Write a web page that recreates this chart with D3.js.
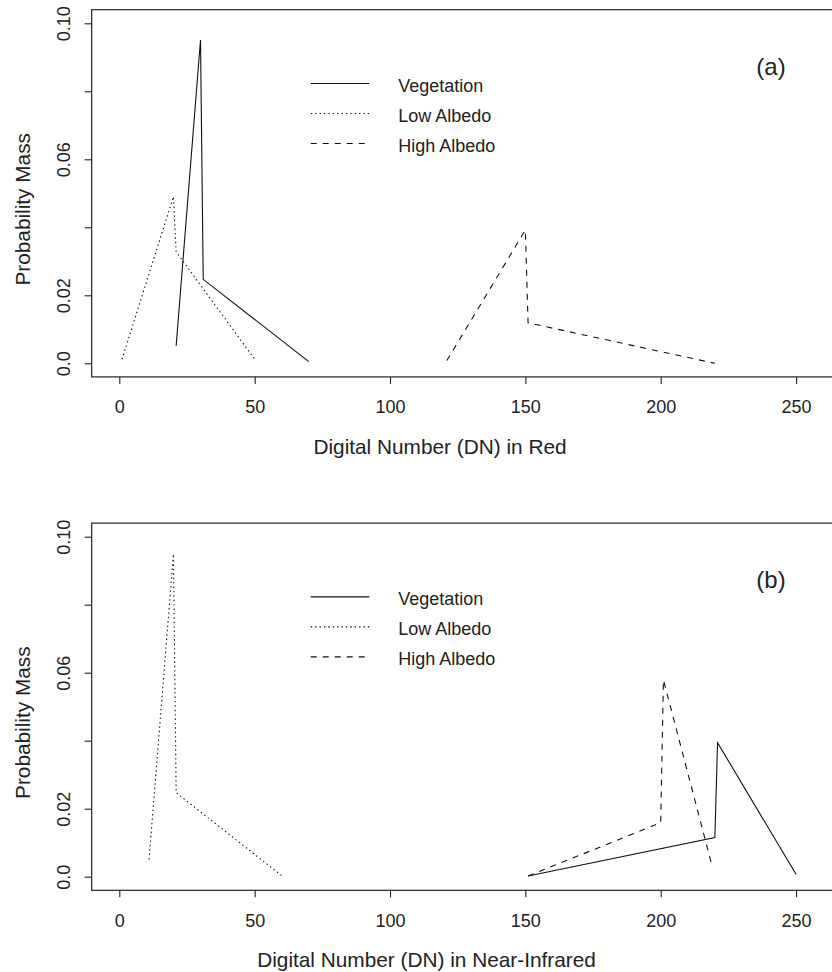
<!DOCTYPE html>
<html>
<head>
<meta charset="utf-8">
<script src="https://cdn.jsdelivr.net/npm/d3@7"></script>
<style>
  html, body { margin: 0; padding: 0; background: #fff; }
  svg { display: block; }
  text { font-family: "Liberation Sans", Arial, Helvetica, sans-serif; fill: #222; }
</style>
</head>
<body>
<script>
// ---------- data ----------
const seriesNames = ["Vegetation", "Low Albedo", "High Albedo"];
const xTickValues = [0, 50, 100, 150, 200, 250];
const xTickLabels = ["0", "50", "100", "150", "200", "250"];
const yTickValues = [0, 0.02, 0.04, 0.06, 0.08, 0.10];
const yTickLabels = ["0.0", "0.02", "", "0.06", "", "0.10"];

// Panel (a): Red
const vegRedDN = [21, 30, 31, 70];
const vegRedMass = [0.0051, 0.0951, 0.0247, 0.0005];
const lowRedDN = [1, 20, 21, 50];
const lowRedMass = [0.0012, 0.0490, 0.0328, 0.0012];
const highRedDN = [121, 150, 151, 220];
const highRedMass = [0.0008, 0.0392, 0.0119, 0.0000];

// Panel (b): Near-Infrared
const vegNirDN = [151, 220, 221, 250];
const vegNirMass = [0.0002, 0.0115, 0.0394, 0.0007];
const lowNirDN = [11, 20, 21, 60];
const lowNirMass = [0.0051, 0.0949, 0.0247, 0.0003];
const highNirDN = [151, 200, 201, 219];
const highNirMass = [0.0002, 0.0159, 0.0579, 0.0031];

const panels = [
  { tag: "(a)", xlab: "Digital Number (DN) in Red", xlabCx: 440, offset: 0,
    series: [[vegRedDN, vegRedMass], [lowRedDN, lowRedMass], [highRedDN, highRedMass]] },
  { tag: "(b)", xlab: "Digital Number (DN) in Near-Infrared", xlabCx: 426.5, offset: 513.4,
    series: [[vegNirDN, vegNirMass], [lowNirDN, lowNirMass], [highNirDN, highNirMass]] }
];

// ---------- styles ----------
const dashes = [null, "1.4,3", "6,6"];
const W = 832, H = 972;

const svg = d3.select("body").append("svg").attr("width", W).attr("height", H);

const x = d3.scaleLinear().domain([0, 255]).range([119.3, 809.6]);
const y = d3.scaleLinear().domain([0, 0.1]).range([363.3, 23.3]);
const xPad = 255 * 0.04, yPad = 0.1 * 0.04;
const boxL = x(-xPad), boxR = x(255 + xPad), boxT = y(0.1 + yPad), boxB = y(-yPad);

panels.forEach(p => {
  const g = svg.append("g").attr("transform", `translate(0,${p.offset})`);

  // lines
  const line = d3.line().x(d => x(d[0])).y(d => y(d[1]));
  p.series.forEach((s, i) => {
    const pts = s[0].map((v, k) => [v, s[1][k]]);
    g.append("path").datum(pts)
      .attr("d", line)
      .attr("fill", "none")
      .attr("stroke", "#111")
      .attr("stroke-width", 1.1)
      .attr("stroke-dasharray", dashes[i]);
  });

  // box
  g.append("rect")
    .attr("x", boxL).attr("y", boxT)
    .attr("width", boxR - boxL).attr("height", boxB - boxT)
    .attr("fill", "none").attr("stroke", "#222").attr("stroke-width", 1.2);

  // x axis
  const xAxis = g.append("g").attr("transform", `translate(0,${boxB})`)
    .call(d3.axisBottom(x).tickValues(xTickValues)
      .tickFormat((d, i) => xTickLabels[i]).tickSizeOuter(0).tickSize(7));
  xAxis.select(".domain").remove();
  xAxis.selectAll(".tick line").attr("stroke", "#222").attr("stroke-width", 1.1);
  xAxis.selectAll(".tick text")
    .attr("y", 413.3 - boxB).attr("dy", 0)
    .style("font-size", "18px").style("fill", "#222")
    .attr("font-family", null);

  // y axis
  const yAxis = g.append("g").attr("transform", `translate(${boxL},0)`)
    .call(d3.axisLeft(y).tickValues(yTickValues)
      .tickFormat((d, i) => yTickLabels[i]).tickSizeOuter(0).tickSize(7));
  yAxis.select(".domain").remove();
  yAxis.selectAll(".tick line").attr("stroke", "#222").attr("stroke-width", 1.1);
  yAxis.selectAll(".tick text")
    .attr("x", 0).attr("y", 70 - boxL).attr("dy", 0)
    .attr("text-anchor", "middle")
    .attr("transform", "rotate(-90)")
    .style("font-size", "18px").style("fill", "#222");

  // axis titles
  g.append("text")
    .attr("x", p.xlabCx).attr("y", 454)
    .attr("text-anchor", "middle")
    .style("font-size", "20.8px")
    .text(p.xlab);
  g.append("text")
    .attr("transform", `translate(30,${(boxT + boxB) / 2 + 16}) rotate(-90)`)
    .attr("text-anchor", "middle")
    .style("font-size", "20.8px")
    .text("Probability Mass");

  // legend
  const legY = [83.5, 113.5, 143.5];
  seriesNames.forEach((name, i) => {
    g.append("line")
      .attr("x1", 310.7).attr("x2", 369.3)
      .attr("y1", legY[i]).attr("y2", legY[i])
      .attr("stroke", "#111").attr("stroke-width", 1.1)
      .attr("stroke-dasharray", dashes[i]);
    g.append("text")
      .attr("x", 398.3).attr("y", legY[i] + 8)
      .style("font-size", "18px")
      .text(name);
  });

  // panel tag
  g.append("text")
    .attr("x", 771).attr("y", 75)
    .attr("text-anchor", "middle")
    .style("font-size", "24px")
    .text(p.tag);
});
</script>
</body>
</html>
